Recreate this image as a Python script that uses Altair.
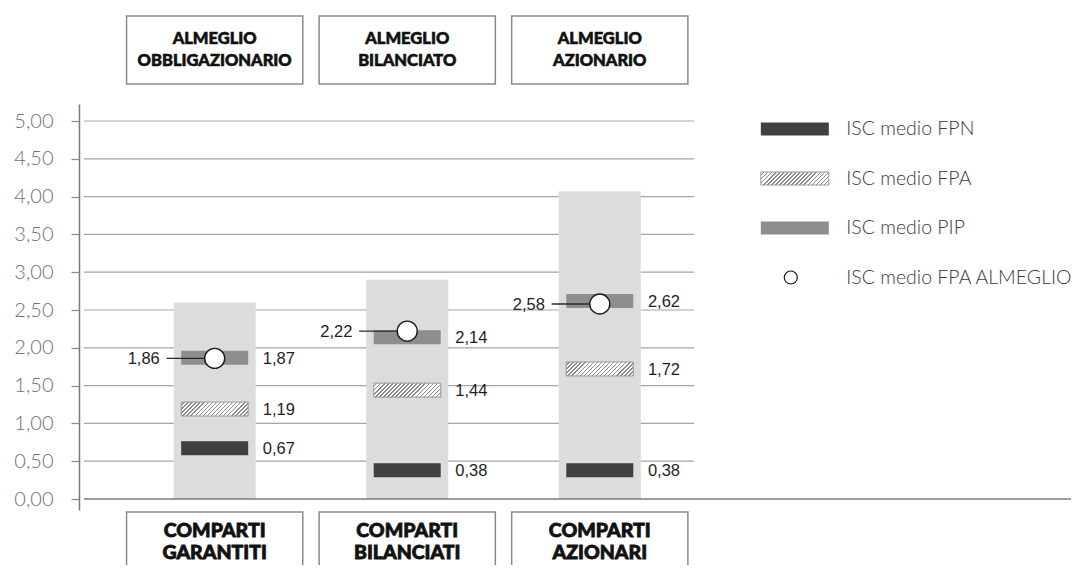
import altair as alt
import pandas as pd

# ---------------- data ----------------
comparti = ["COMPARTI\nGARANTITI", "COMPARTI\nBILANCIATI", "COMPARTI\nAZIONARI"]
fondi_almeglio = ["ALMEGLIO\nOBBLIGAZIONARIO", "ALMEGLIO\nBILANCIATO", "ALMEGLIO\nAZIONARIO"]
isc_range_max = [2.60, 2.90, 4.07]
isc_fpn = [0.67, 0.38, 0.38]
isc_fpa = [1.19, 1.44, 1.72]
isc_pip = [1.87, 2.14, 2.62]
isc_almeglio = [1.86, 2.22, 2.58]
legend_labels = ["ISC medio FPN", "ISC medio FPA", "ISC medio PIP", "ISC medio FPA ALMEGLIO"]
y_ticks = [0.0, 0.5, 1.0, 1.5, 2.0, 2.5, 3.0, 3.5, 4.0, 4.5, 5.0]

# ---------------- layout constants (page pixels -> data units) ----------------
UX = 194.5          # px per x unit (one comparto)
UY = 75.6           # px per ISC point
LEFT_PX, TOP_PX, ZERO_PX, BOT_PX = 79, 104, 499, 510
TOTAL_W, TOTAL_H = 1068, 557
PLOT_W = TOTAL_W - (LEFT_PX - 8)
PLOT_H = BOT_PX - TOP_PX
X_MIN = 1 - (211 - LEFT_PX) / UX
X_MAX = X_MIN + PLOT_W / UX
Y_MAX = (ZERO_PX - TOP_PX) / UY
Y_MIN = -(BOT_PX - ZERO_PX) / UY


def ypx(py):
    return (ZERO_PX - py) / UY


GRID_END = 3.49
BAR_HALF = 7 / UY
LAB_RIGHT = 0.25
LAB_LEFT = 0.285
CONN = 0.25
BOX_HALF = 89 / UX
LEG_SYM_X = 4.013
LEG_CIRC_X = 3.992
LEG_TEXT_X = 4.28
LEG_ROWS_PX = [129, 178.5, 228, 277.5]

C_FPN = "#404040"
C_PIP = "#8e8e90"
C_COL = "#dcdcde"
C_BOX = "#8a8a8a"


def hatch(W, H, spacing=4.0, line_frac=0.38, bg="#ffffff", fg="#8a8a8a"):
    s = (W + H) / (W * W + H * H)
    n = int(round((W + H) / spacing))
    stops = []
    for i in range(n):
        a = i / n
        b = (i + 1 - line_frac) / n
        c = (i + 1) / n
        stops += [
            {"offset": a, "color": bg},
            {"offset": b, "color": bg},
            {"offset": b, "color": fg},
            {"offset": c, "color": fg},
        ]
    return {"gradient": "linear", "x1": 0, "y1": 0, "x2": s * W, "y2": s * H, "stops": stops}


def fmt(v):
    return f"{v:.2f}".replace(".", ",")


pos = [1, 2, 3]

xs = alt.Scale(domain=[X_MIN, X_MAX], nice=False, zero=False)
ys = alt.Scale(domain=[Y_MIN, Y_MAX], nice=False, zero=False)
x_axis = alt.Axis(labels=False, ticks=False, domain=False, grid=False, title=None)
y_axis = alt.Axis(
    values=y_ticks,
    labelExpr="replace(format(datum.value, '.2f'), '.', ',')",
    title=None,
    grid=False,
    tickSize=8,
    tickWidth=1.2,
    tickColor="#8a8a8a",
    domainColor="#7a7a7a",
    domainWidth=1.5,
    labelColor="#707070",
    labelFont="Lato",
    labelFontWeight=300,
    labelFontSize=20,
    labelPadding=18,
)


def X(f):
    return alt.X(f, type="quantitative", scale=xs, axis=x_axis)


def Y(f):
    return alt.Y(f, type="quantitative", scale=ys, axis=y_axis)


# ---------------- frames ----------------
df_grid = pd.DataFrame({"y": y_ticks[1:], "x": X_MIN, "x2": GRID_END})
df_zero = pd.DataFrame({"y": [0.0], "x": [X_MIN], "x2": [X_MAX]})
df_col = pd.DataFrame({"pos": pos, "top": isc_range_max, "zero": 0.0})

rows = []
for name, vals in [("FPN", isc_fpn), ("FPA", isc_fpa), ("PIP", isc_pip)]:
    for p, v in zip(pos, vals):
        rows.append({"serie": name, "pos": p, "v": v, "lo": v - BAR_HALF, "hi": v + BAR_HALF,
                     "lx": p + LAB_RIGHT, "label": fmt(v)})
df_bars = pd.DataFrame(rows)

df_alm = pd.DataFrame({
    "pos": pos,
    "v": isc_almeglio,
    "cx": [p - CONN for p in pos],
    "lx": [p - LAB_LEFT for p in pos],
    "label": [fmt(v) for v in isc_almeglio],
})

df_top = pd.DataFrame({
    "txt": fondi_almeglio,
    "pos": pos,
    "x": [p - BOX_HALF for p in pos],
    "x2": [p + BOX_HALF for p in pos],
    "y": ypx(16),
    "y2": ypx(84),
    "ty": ypx(38.5),
})
df_bot = pd.DataFrame({
    "txt": comparti,
    "pos": pos,
    "x": [p - BOX_HALF for p in pos],
    "x2": [p + BOX_HALF for p in pos],
    "y": ypx(512),
    "y2": ypx(640),
    "ty": ypx(530.5),
})

df_leg = pd.DataFrame({
    "label": legend_labels,
    "y": [ypx(p) for p in LEG_ROWS_PX],
    "sx": LEG_SYM_X,
    "cx": LEG_CIRC_X,
    "tx": LEG_TEXT_X,
})
df_leg["lo"] = df_leg["y"] - 6.5 / UY
df_leg["hi"] = df_leg["y"] + 6.5 / UY

# ---------------- layers ----------------
grid = alt.Chart(df_grid).mark_rule(color="#a5a5a5", strokeWidth=1.2).encode(
    x=X("x"), x2="x2", y=Y("y"))
zero = alt.Chart(df_zero).mark_rule(color="#7a7a7a", strokeWidth=1.5).encode(
    x=X("x"), x2="x2", y=Y("y"))

cols = alt.Chart(df_col).mark_bar(width=82, color=C_COL).encode(
    x=X("pos"), y=Y("top"), y2="zero")

fpn = alt.Chart(df_bars).transform_filter("datum.serie == 'FPN'").mark_bar(
    width=67, color=C_FPN).encode(x=X("pos"), y=Y("lo"), y2="hi")
fpa = alt.Chart(df_bars).transform_filter("datum.serie == 'FPA'").mark_bar(
    width=67, fill=hatch(67, 14), stroke="#999999", strokeWidth=1).encode(
    x=X("pos"), y=Y("lo"), y2="hi")
pip = alt.Chart(df_bars).transform_filter("datum.serie == 'PIP'").mark_bar(
    width=67, color=C_PIP).encode(x=X("pos"), y=Y("lo"), y2="hi")

bar_labels = alt.Chart(df_bars).mark_text(
    align="left", baseline="middle", font="Liberation Sans", fontSize=16.5, color="#1e1e1e",
    dy=1).encode(x=X("lx"), y=Y("v"), text="label")

conn = alt.Chart(df_alm).mark_rule(color="#2a2a2a", strokeWidth=1.4).encode(
    x=X("cx"), x2="pos", y=Y("v"))
circ = alt.Chart(df_alm).mark_point(
    shape="circle", filled=True, fill="white", stroke="#1a1a1a", strokeWidth=1.4,
    size=400, opacity=1).encode(x=X("pos"), y=Y("v"))
alm_labels = alt.Chart(df_alm).mark_text(
    align="right", baseline="middle", font="Liberation Sans", fontSize=16.5, color="#1e1e1e",
    dy=1).encode(x=X("lx"), y=Y("v"), text="label")

top_box = alt.Chart(df_top).mark_rect(fill="white", stroke=C_BOX, strokeWidth=1.5).encode(
    x=X("x"), x2="x2", y=Y("y"), y2="y2")
top_txt = alt.Chart(df_top).mark_text(
    align="center", baseline="middle", font="Lato", fontWeight=900, fontSize=16.5,
    color="#111111", stroke="#111111", strokeWidth=0.6,
    lineBreak="\n", lineHeight=22.5).encode(x=X("pos"), y=Y("ty"), text="txt")

bot_box = alt.Chart(df_bot).mark_rect(fill="white", stroke=C_BOX, strokeWidth=1.5).encode(
    x=X("x"), x2="x2", y=Y("y"), y2="y2")
bot_txt = alt.Chart(df_bot).mark_text(
    align="center", baseline="middle", font="Lato", fontWeight=900, fontSize=19.5,
    color="#111111", stroke="#111111", strokeWidth=0.8,
    lineBreak="\n", lineHeight=22.5).encode(x=X("pos"), y=Y("ty"), text="txt")

leg_fpn = alt.Chart(df_leg).transform_filter("datum.label == 'ISC medio FPN'").mark_bar(
    width=68, color=C_FPN).encode(x=X("sx"), y=Y("lo"), y2="hi")
leg_fpa = alt.Chart(df_leg).transform_filter("datum.label == 'ISC medio FPA'").mark_bar(
    width=68, fill=hatch(68, 13), stroke="#999999", strokeWidth=1).encode(
    x=X("sx"), y=Y("lo"), y2="hi")
leg_pip = alt.Chart(df_leg).transform_filter("datum.label == 'ISC medio PIP'").mark_bar(
    width=68, color=C_PIP).encode(x=X("sx"), y=Y("lo"), y2="hi")
leg_circ = alt.Chart(df_leg).transform_filter("datum.label == 'ISC medio FPA ALMEGLIO'").mark_point(
    shape="circle", filled=True, fill="white", stroke="#1a1a1a", strokeWidth=1.2,
    size=169, opacity=1).encode(x=X("cx"), y=Y("y"))
leg_txt = alt.Chart(df_leg).mark_text(
    align="left", baseline="middle", font="Lato", fontWeight=300, fontSize=19.5,
    color="#3a3a3a").encode(x=X("tx"), y=Y("y"), text="label")

chart = alt.layer(
    grid, cols, zero, fpn, fpa, pip, bar_labels, conn, circ, alm_labels,
    top_box, top_txt, bot_box, bot_txt,
    leg_fpn, leg_fpa, leg_pip, leg_circ, leg_txt,
).properties(
    width=PLOT_W,
    height=PLOT_H,
    padding={"left": LEFT_PX - 8, "top": TOP_PX - 8, "right": 0,
             "bottom": TOTAL_H - (TOP_PX - 8) - PLOT_H},
    autosize=alt.AutoSizeParams(type="none"),
    background="white",
).configure_view(strokeWidth=0)

chart.save("out.html", embed_options={"renderer": "svg", "actions": False})
